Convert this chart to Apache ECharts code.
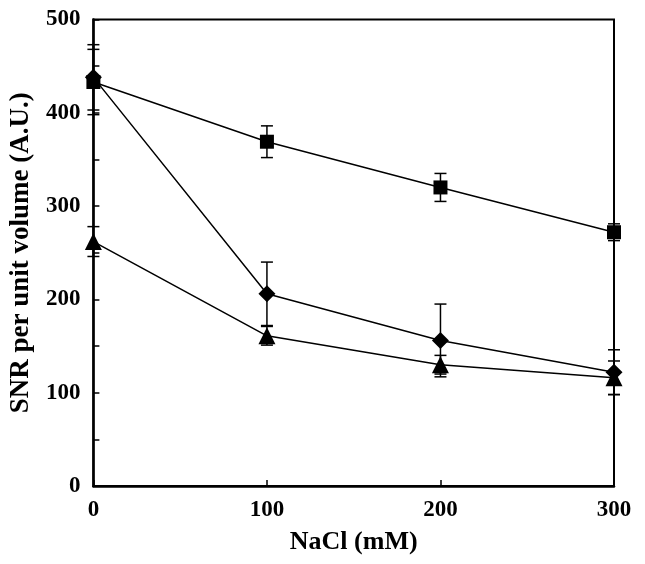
<!DOCTYPE html>
<html>
<head>
<meta charset="utf-8">
<script src="https://cdn.jsdelivr.net/npm/echarts@6/dist/echarts.min.js"></script>
<style>html,body{margin:0;padding:0;background:#fff;}#c{width:645px;height:564px;}</style>
</head>
<body>
<div id="c"></div>
<script>
const nacl = [0, 100, 200, 300];
const squareVals = [433, 369, 320, 272];
const squareErr = [35, 17, 15, 9];
const diamondVals = [438, 206, 156, 122];
const diamondErr = [35, 34, 39, 24];
const triangleVals = [262, 161, 130, 116];
const triangleErr = [16, 10, 10, 18];
const xTicks = [0, 100, 200, 300];
const yTicks = [0, 100, 200, 300, 400, 500];

const FONT = '"Liberation Serif", "Times New Roman", serif';

function errData(vals, errs) {
  return nacl.map((x, i) => [x, vals[i] - errs[i], vals[i] + errs[i]]);
}
function errSeries(vals, errs) {
  return {
    type: 'custom',
    z: 1,
    silent: true,
    data: errData(vals, errs),
    renderItem: function (params, api) {
      const x = api.value(0);
      const lo = api.coord([x, api.value(1)]);
      const hi = api.coord([x, api.value(2)]);
      const w = 6;
      const style = { stroke: '#000', lineWidth: 1.5, fill: null };
      return {
        type: 'group',
        children: [
          { type: 'line', shape: { x1: lo[0], y1: lo[1], x2: hi[0], y2: hi[1] }, style },
          { type: 'line', shape: { x1: lo[0] - w, y1: lo[1], x2: lo[0] + w, y2: lo[1] }, style },
          { type: 'line', shape: { x1: hi[0] - w, y1: hi[1], x2: hi[0] + w, y2: hi[1] }, style }
        ]
      };
    }
  };
}
function lineSeries(vals, symbol, size) {
  return {
    type: 'line',
    z: 3,
    data: nacl.map((x, i) => [x, vals[i]]),
    symbol: symbol,
    symbolSize: size,
    lineStyle: { color: '#000', width: 1.5 },
    itemStyle: { color: '#000', borderWidth: 0 },
    showSymbol: true,
    animation: false
  };
}

const chart = echarts.init(document.getElementById('c'), null, { renderer: 'canvas' });
chart.setOption({
  animation: false,
  backgroundColor: '#fff',
  grid: { left: 92.5, right: 31, top: 19.5, bottom: 78, show: true, borderColor: '#000', borderWidth: 2 },
  xAxis: {
    type: 'value', min: xTicks[0], max: xTicks[xTicks.length - 1], interval: 100,
    name: 'NaCl (mM)', nameLocation: 'middle', nameGap: 43,
    nameTextStyle: { fontFamily: FONT, fontWeight: 'bold', fontSize: 26, color: '#000' },
    axisLine: { lineStyle: { color: '#000', width: 2.5 } },
    axisTick: { inside: true, length: 6, lineStyle: { color: '#000', width: 1.5 } },
    axisLabel: { fontFamily: FONT, fontWeight: 'bold', fontSize: 23, color: '#000', margin: 13 },
    splitLine: { show: false }
  },
  yAxis: {
    type: 'value', min: yTicks[0], max: yTicks[yTicks.length - 1], interval: 100,
    name: 'SNR per unit volume (A.U.)', nameLocation: 'middle', nameGap: 52,
    nameTextStyle: { fontFamily: FONT, fontWeight: 'bold', fontSize: 27, color: '#000' },
    axisLine: { lineStyle: { color: '#000', width: 2.5 } },
    axisTick: { inside: true, length: 6, lineStyle: { color: '#000', width: 1.5 } },
    minorTick: { show: true, splitNumber: 2, length: 6, lineStyle: { color: '#000', width: 1.5 } },
    axisLabel: { fontFamily: FONT, fontWeight: 'bold', fontSize: 23, color: '#000', margin: 13 },
    splitLine: { show: false }
  },
  series: [
    errSeries(squareVals, squareErr),
    errSeries(diamondVals, diamondErr),
    errSeries(triangleVals, triangleErr),
    lineSeries(squareVals, 'rect', 14),
    lineSeries(diamondVals, 'diamond', 17),
    lineSeries(triangleVals, 'triangle', 17)
  ]
});
</script>
</body>
</html>
